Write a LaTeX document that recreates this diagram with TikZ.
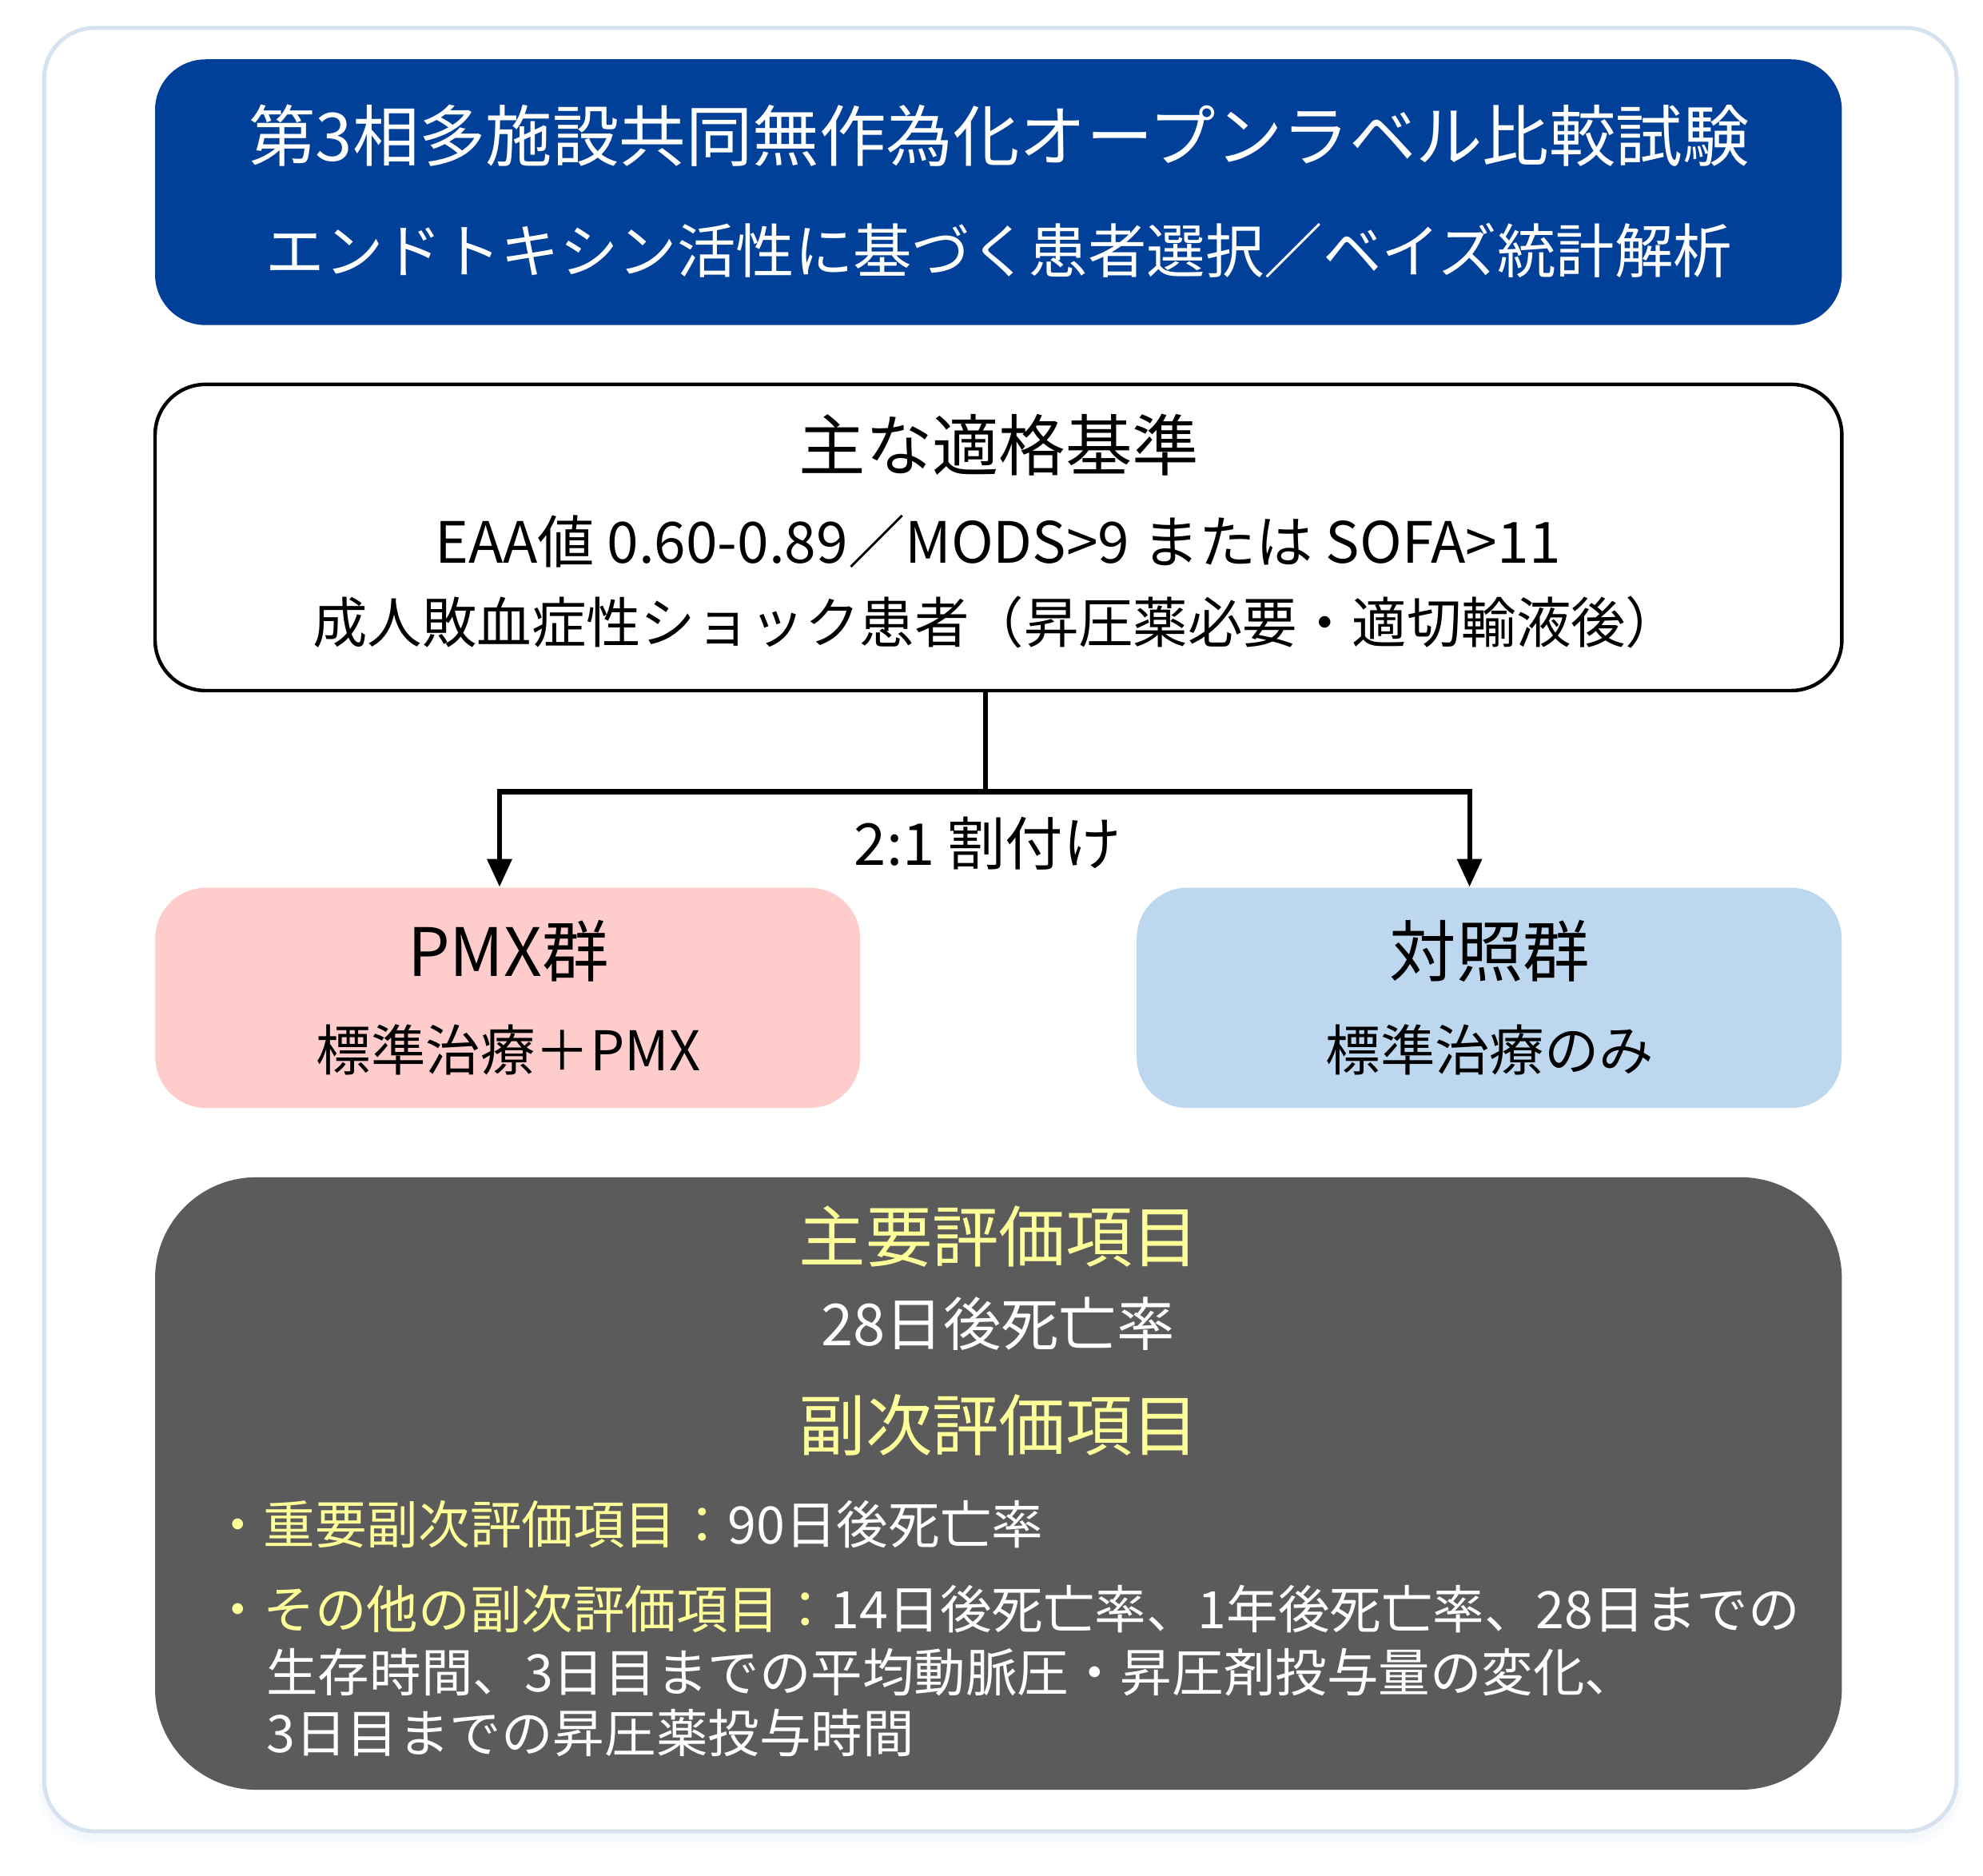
\documentclass[tikz,border=0pt]{standalone}
\usepackage{fontspec}
\setmainfont{Noto Sans CJK JP}
\usepackage{xcolor}
\usetikzlibrary{arrows.meta,positioning,calc}

\definecolor{titleblue}{RGB}{0,64,152}
\definecolor{framegray}{RGB}{214,226,240}
\definecolor{pmxpink}{RGB}{255,204,204}
\definecolor{ctrlblue}{RGB}{189,215,238}
\definecolor{endgray}{RGB}{91,91,91}
\definecolor{hiyellow}{RGB}{255,255,153}

\newcommand{\headsize}{\fontsize{15pt}{18pt}\selectfont}
\newcommand{\bodysize}{\fontsize{12.3pt}{15pt}\selectfont}
\newcommand{\notesize}{\fontsize{11.6pt}{14pt}\selectfont}

\tikzset{
  panel/.style={rectangle, rounded corners=0.4cm, inner sep=0pt, minimum width=13.33cm},
  groupbox/.style={rectangle, rounded corners=0.4cm, inner sep=0pt, minimum width=5.57cm, minimum height=1.74cm},
  txt/.style={inner sep=0pt, font=\bodysize},
  headtxt/.style={inner sep=0pt, font=\headsize},
  notetxt/.style={inner sep=0pt, anchor=west, font=\notesize, text=white},
  flow/.style={line width=1.1pt},
  flowarrow/.style={flow, -{Triangle[length=0.22cm,width=0.19cm]}}
}

\begin{document}
\begin{tikzpicture}[x=0.01cm, y=-0.01cm]
    \useasboundingbox (0,0) rectangle (1568,1483);
    % outer frame with soft shadow
    \foreach \s in {2,4,...,14}
        \fill[framegray, opacity=0.05, rounded corners=0.45cm] (35-\s*0.4,22+\s*0.6) rectangle (1547+\s*0.4,1448+\s);
    \fill[white, draw=framegray, line width=0.9pt, rounded corners=0.4cm] (35,22) rectangle (1547,1448);

    % title
    \node[panel, fill=titleblue, minimum height=2.10cm] (title) at (789.5,152) {};
    \node[headtxt, text=white] (title1) at (790,107) {第3相多施設共同無作為化オープンラベル比較試験};
    \node[inner sep=0pt, text=white, font=\fontsize{13.2pt}{16pt}\selectfont] (title2) at (790,198) {エンドトキシン活性に基づく患者選択／ベイズ統計解析};

    % eligibility
    \node[panel, draw=black, line width=0.8pt, fill=white, minimum height=2.42cm] (crit) at (789.5,425) {};
    \node[headtxt] (crithead) at (790,352) {主な適格基準};
    \node[txt, font=\fontsize{12.8pt}{15pt}\selectfont] (crit1) at (789,428) {EAA値 0.60-0.89／MODS>9 または SOFA>11};
    \node[txt] (crit2) at (788,492) {成人敗血症性ショック患者（昇圧薬必要・適切輸液後）};

    % groups
    \node[groupbox, fill=pmxpink] (pmx) at (401.5,789) {};
    \node[headtxt] (pmxhead) at (402,752) {PMX群};
    \node[txt] (pmxbody) at (402,830) {標準治療＋PMX};
    \node[groupbox, fill=ctrlblue] (ctrl) at (1177.5,789) {};
    \node[headtxt] (ctrlhead) at (1178,752) {対照群};
    \node[txt] (ctrlbody) at (1178,830) {標準治療のみ};

    % allocation
    \coordinate (split) at (779,626);
    \draw[flow] (crit.south -| split) -- (split);
    \draw[flowarrow] (split) -| ([xshift=-0.065cm]pmx.north);
    \draw[flowarrow] (split) -| ([xshift=-0.155cm]ctrl.north);
    \node[inner sep=0pt, font=\fontsize{13pt}{16pt}\selectfont] (ratio) at (781,667) {2:1 割付け};

    % endpoints
    \node[panel, fill=endgray, rounded corners=0.8cm, minimum height=4.84cm] (endp) at (789.5,1173) {};
    \node[headtxt, text=hiyellow] (primhead) at (790,978) {主要評価項目};
    \node[txt, text=white, font=\fontsize{13pt}{15pt}\selectfont] (primbody) at (789,1047) {28日後死亡率};
    \node[headtxt, text=hiyellow] (sechead) at (790,1127) {副次評価項目};
    \node[notetxt] (sec1) at (167,1205) {\textcolor{hiyellow}{・重要副次評価項目：}90日後死亡率};
    \node[notetxt] (sec2) at (167,1272) {\textcolor{hiyellow}{・その他の副次評価項目：}14日後死亡率、1年後死亡率、28日までの};
    \node[notetxt] (sec3) at (210,1322) {生存時間、3日目までの平均動脈圧・昇圧剤投与量の変化、};
    \node[notetxt] (sec4) at (210,1370) {3日目までの昇圧薬投与時間};
\end{tikzpicture}
\end{document}
